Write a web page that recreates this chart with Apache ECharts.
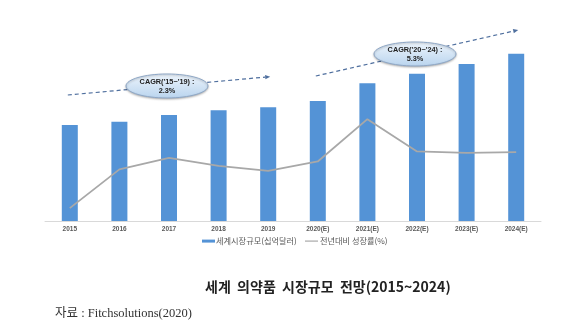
<!DOCTYPE html>
<html>
<head>
<meta charset="utf-8">
<script src="https://cdn.jsdelivr.net/npm/echarts@6/dist/echarts.min.js"></script>
<style>
html,body{margin:0;padding:0;background:#fff;}
#c{width:568px;height:334px;}
</style>
</head>
<body>
<div id="c"></div>
<script>
// ---- data ----
var categories = ['2015','2016','2017','2018','2019','2020(E)','2021(E)','2022(E)','2023(E)','2024(E)'];
var marketSize = [1076, 1096, 1136, 1164, 1182, 1220, 1326, 1384, 1442, 1504];   // 십억달러
var growthRate = [-3.7, 1.7, 3.3, 2.2, 1.5, 2.8, 8.7, 4.2, 4.0, 4.1];           // %
var seriesNames = ['세계시장규모(십억달러)', '전년대비 성장률(%)'];
var cagrText = [["CAGR('15~'19) :", '2.3%'], ["CAGR('20~'24) :", '5.3%']];
var cagrRanges = [[0, 4], [5, 9]];      // category index range of each trend arrow
var chartTitle = '세계  의약품  시장규모  전망(2015~2024)';
var sourceText = '자료 : Fitchsolutions(2020)';

var chart = echarts.init(document.getElementById('c'), null, {renderer: 'canvas'});

chart.setOption({
  animation: false,
  backgroundColor: '#fff',
  grid: {left: 45, right: 27, top: 41, height: 180},
  legend: [
    {data: [seriesNames[0]], left: 202, top: 237, padding: 0, itemWidth: 13, itemHeight: 3, itemGap: 4,
     icon: 'rect', textStyle: {fontSize: 8.2, color: '#595959', fontFamily: 'Noto Sans CJK KR', padding: [0,0,0,-4]}},
    {data: [seriesNames[1]], left: 305, top: 237, padding: 0, itemWidth: 13, itemHeight: 1.2, itemGap: 4,
     icon: 'rect', textStyle: {fontSize: 8.2, color: '#595959', fontFamily: 'Noto Sans CJK KR', padding: [0,0,0,-3]}}
  ],
  xAxis: {
    type: 'category', data: categories, boundaryGap: true,
    axisLine: {onZero: false, lineStyle: {color: '#d9d9d9', width: 1}},
    axisTick: {show: false},
    axisLabel: {fontSize: 6.5, color: '#595959', margin: 5, fontFamily: 'Liberation Sans', fontWeight: 'bold'}
  },
  yAxis: [
    {type: 'value', min: 500, max: 1580, show: false, splitLine: {show: false}},
    {type: 'value', min: -5.5, max: 19.6, show: false, splitLine: {show: false}}
  ],
  series: [
    {name: seriesNames[0], type: 'bar', data: marketSize, barWidth: 16, yAxisIndex: 0,
     itemStyle: {color: '#5493d6'}},
    {name: seriesNames[1], type: 'line', data: growthRate, yAxisIndex: 1,
     showSymbol: false, symbol: 'none', lineStyle: {color: '#a8a8a8', width: 1.8},
     itemStyle: {color: '#a8a8a8'}}
  ]
});

// ---- annotations (trend arrows + CAGR ellipses), placed via the chart's own scales ----
function px(ci, v) { return chart.convertToPixel({xAxisIndex: 0, yAxisIndex: 0}, [ci, v]); }
var arrowVals = [[1256, 1366], [1370, 1646]];
var ellipseAnchors = [[2, 1310], [7, 1502]];
var g = [];
for (var k = 0; k < 2; k++) {
  var p0 = px(cagrRanges[k][0], arrowVals[k][0]);
  var p1 = px(cagrRanges[k][1], arrowVals[k][1]);
  p0 = [p0[0] - 2, p0[1]];
  p1 = [p1[0] + 2, p1[1]];
  var dx = p1[0] - p0[0], dy = p1[1] - p0[1], L = Math.sqrt(dx*dx + dy*dy);
  var ux = dx / L, uy = dy / L;
  var hl = 5, hw = 2.2;
  var base = [p1[0] - ux*hl, p1[1] - uy*hl];
  g.push({type: 'line', silent: true, z: 10,
    shape: {x1: p0[0], y1: p0[1], x2: base[0], y2: base[1]},
    style: {stroke: '#4f6f9e', lineWidth: 1.2, lineDash: [4, 3]}});
  g.push({type: 'polygon', silent: true, z: 10,
    shape: {points: [[p1[0], p1[1]], [base[0] - uy*hw, base[1] + ux*hw], [base[0] + uy*hw, base[1] - ux*hw]]},
    style: {fill: '#4f6f9e'}});
  var c = px(ellipseAnchors[k][0], ellipseAnchors[k][1]);
  g.push({type: 'ellipse', silent: true, z: 11,
    shape: {cx: c[0] - 2, cy: c[1], rx: 41, ry: 12},
    style: {
      fill: new echarts.graphic.LinearGradient(0, 0, 0, 1, [
        {offset: 0, color: '#eef5fc'}, {offset: 1, color: '#b9d4ee'}]),
      stroke: '#8ea7c6', lineWidth: 1,
      shadowColor: 'rgba(0,0,0,0.25)', shadowBlur: 2, shadowOffsetY: 1
    }});
  g.push({type: 'text', silent: true, z: 12,
    style: {x: c[0] - 2, y: c[1] - 4.5, text: cagrText[k][0], align: 'center', verticalAlign: 'middle',
            fontSize: 7.3, fontWeight: 'bold', fill: '#222', fontFamily: 'Liberation Sans'}});
  g.push({type: 'text', silent: true, z: 12,
    style: {x: c[0] - 2, y: c[1] + 4.5, text: cagrText[k][1], align: 'center', verticalAlign: 'middle',
            fontSize: 7.3, fontWeight: 'bold', fill: '#222', fontFamily: 'Liberation Sans'}});
}
g.push({type: 'text', silent: true, left: 205, top: 280,
  style: {text: chartTitle, fontSize: 14, fontWeight: 'bold', fill: '#222',
          fontFamily: 'Noto Sans CJK KR'}});
g.push({type: 'text', silent: true, left: 55, top: 307,
  style: {text: sourceText, fontSize: 12.5, fill: '#333',
          fontFamily: '"Liberation Serif", "Noto Sans CJK KR", serif'}});
chart.setOption({graphic: g});
</script>
</body>
</html>
